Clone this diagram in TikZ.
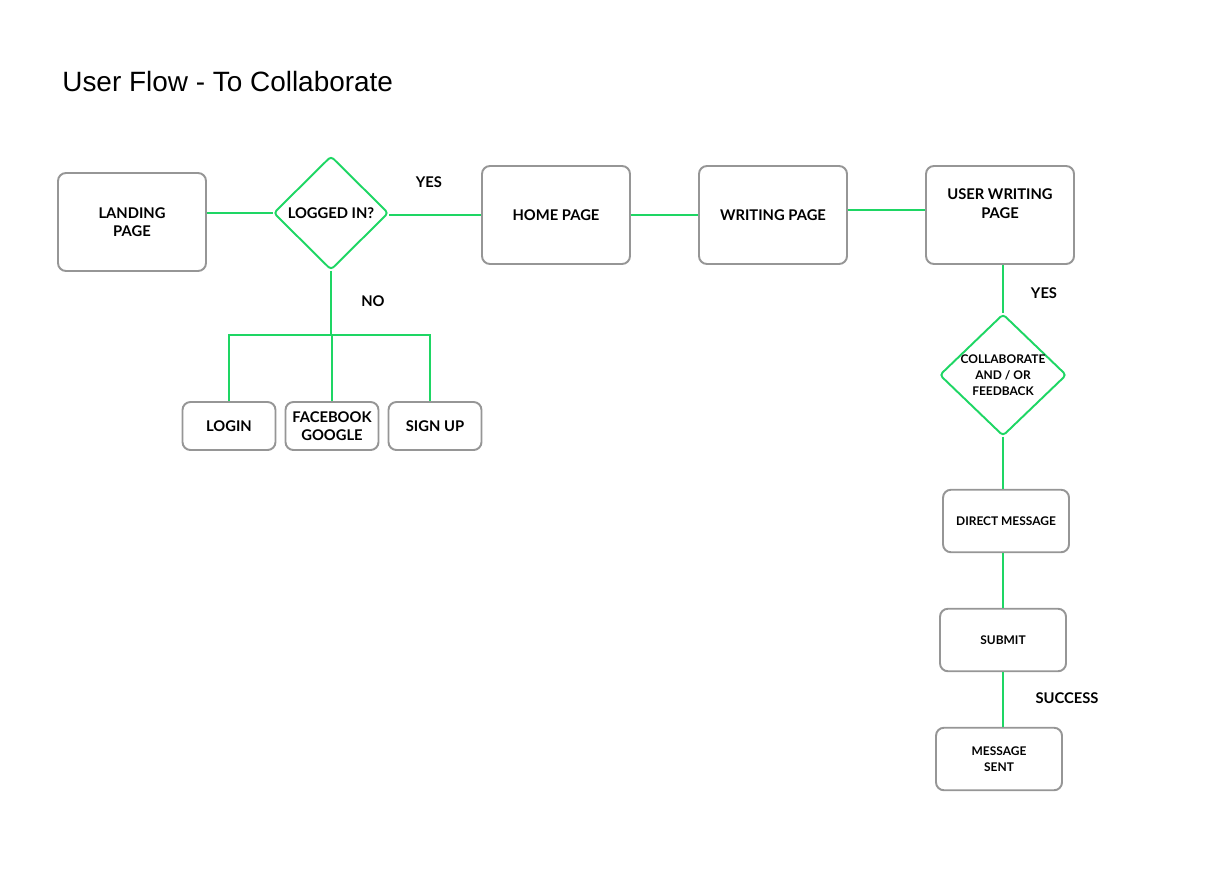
\documentclass[tikz,border=0pt]{standalone}
\usepackage{fontspec}
\setmainfont{Lato}
\newfontfamily\titlefont{Liberation Sans}
\usepackage{tikz}
\usetikzlibrary{shapes.geometric}
\usetikzlibrary{calc}
\definecolor{flowgreen}{RGB}{30,214,100}
\definecolor{boxgrey}{RGB}{150,150,150}

\begin{document}
\begin{tikzpicture}[x=0.02cm,y=-0.02cm,
  page/.style={draw=boxgrey,line width=1.1pt,rounded corners=4.5pt,fill=white,align=center,
    font=\fontsize{8.4}{10.5}\selectfont\bfseries,minimum width=2.96cm,minimum height=1.96cm},
  option/.style={page,minimum width=1.86cm,minimum height=0.96cm},
  step-box/.style={page,font=\fontsize{6.8}{9}\selectfont\bfseries,minimum width=2.52cm,minimum height=1.25cm},
  decision/.style={draw=flowgreen,line width=1.1pt,diamond,rounded corners=2pt,inner sep=0pt,align=center,
    font=\fontsize{8.4}{10.5}\selectfont\bfseries},
  link/.style={draw=flowgreen,line width=1.1pt},
  tag/.style={font=\fontsize{8.4}{10}\selectfont\bfseries}]
  \useasboundingbox (0,0) rectangle (1219,886);
  \node[anchor=west,inner sep=0pt,font=\titlefont\fontsize{15.9}{18}\selectfont] (title) at (62,82) {User Flow - To Collaborate};

  \node[page] (landing) at (132,222) {LANDING\\PAGE};
  \node[decision,minimum width=2.3cm,minimum height=2.28cm] (logged) at (331,213) {LOGGED IN?};
  \node[page] (home) at (556,215) {HOME PAGE};
  \node[page] (writing) at (773,215) {WRITING PAGE};
  \node[page] (userwriting) at (1000,215) {USER WRITING\\PAGE\\[0.3em]};

  \node[option] (login) at (229,426) {LOGIN};
  \node[option] (social) at (332,426) {FACEBOOK\\GOOGLE};
  \node[option] (signup) at (435,426) {SIGN UP};
  \coordinate (fork) at (331,335);

  \node[decision,minimum width=2.54cm,minimum height=2.44cm,
    label={[align=center,font=\fontsize{6.8}{9.1}\selectfont\bfseries]center:COLLABORATE\\AND / OR\\FEEDBACK}] (collab) at (1003,375) {};
  \node[step-box] (direct) at (1006,521) {DIRECT MESSAGE};
  \node[step-box] (submit) at (1003,640) {SUBMIT};
  \node[step-box] (sent) at (999,759) {MESSAGE\\SENT};

  \node[tag] (yes1) at (429,182) {YES};
  \node[tag] (no) at (373,301) {NO};
  \node[tag] (yes2) at (1044,293) {YES};
  \node[tag] (success) at (1067,698) {SUCCESS};

  \foreach \a/\b in {landing/logged,logged/home,home/writing}{%
    \draw[link] (\b.west -| \a.east) -- (\b.west);
  }
  \draw[link] ([yshift=0.1cm]writing.east) -- ([yshift=0.1cm]userwriting.west);
  \draw[link] (logged.south) -- (fork);
  \foreach \n/\s in {login/0,social/0,signup/-5}{%
    \draw[link] (fork) -| ([xshift=\s*0.02cm]\n.north);
  }
  \foreach \a/\b in {userwriting/collab,collab/direct,direct/submit,submit/sent}{%
    \draw[link] (\a.south -| collab) -- (\b.north -| collab);
  }
\end{tikzpicture}
\end{document}
